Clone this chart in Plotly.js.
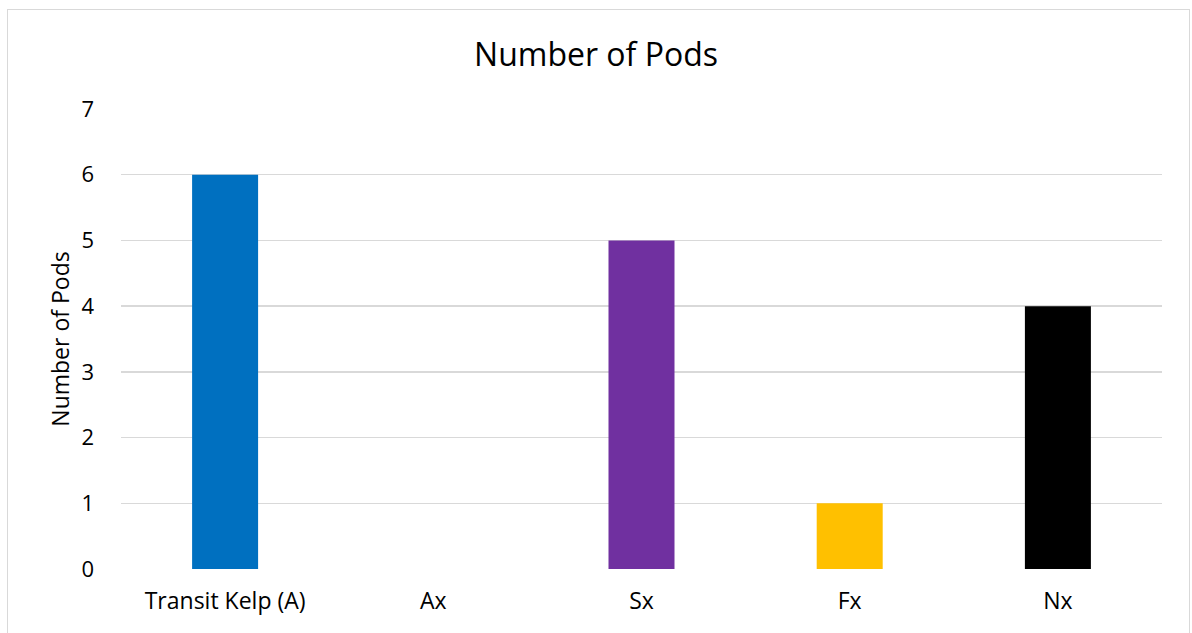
<!DOCTYPE html>
<html>
<head>
<meta charset="utf-8">
<script src="https://cdn.plot.ly/plotly-3.0.1.min.js"></script>
<style>
html,body{margin:0;padding:0;background:#fff;}
#wrap{position:relative;width:1192px;height:633px;overflow:hidden;}
#chart{position:absolute;left:0;top:0;width:1192px;height:633px;}
#frame{position:absolute;left:7px;top:9px;width:1181px;height:640px;border:1.5px solid #d9d9d9;pointer-events:none;}
</style>
</head>
<body>
<div id="wrap"><div id="chart"></div><div id="frame"></div></div>
<script>
const categories = ["Transit Kelp (A)", "Ax", "Sx", "Fx", "Nx"];
const pods = [6, 0, 5, 1, 4];
const barColors = ["#0070C0", "#0070C0", "#7030A0", "#FFC000", "#000000"];
const yTicks = [0, 1, 2, 3, 4, 5, 6, 7];

const fontFam = "'Open Sans', 'Liberation Sans', sans-serif";
Plotly.newPlot("chart", [{
  type: "bar",
  x: categories,
  y: pods,
  marker: {color: barColors},
  hoverinfo: "none"
}], {
  width: 1192, height: 633,
  margin: {l: 121, r: 30, t: 109, b: 64},
  paper_bgcolor: "rgba(0,0,0,0)",
  plot_bgcolor: "rgba(0,0,0,0)",
  bargap: 0.683,
  showlegend: false,
  font: {family: fontFam, color: "#000"},
  title: {text: "Number of Pods", font: {size: 32, color: "#000"}, x: 0.5, xanchor: "center", y: 0.913, yanchor: "middle"},
  xaxis: {
    type: "category",
    tickfont: {size: 23, color: "#000"},
    showgrid: false, zeroline: false, showline: false,
    ticks: "", ticklabelstandoff: 16
  },
  yaxis: {
    range: [0, 7],
    tickvals: yTicks,
    tickfont: {size: 22, color: "#000"},
    showgrid: true, gridcolor: "#d9d9d9", gridwidth: 1.5,
    zeroline: false, showline: false, ticks: "",
    ticklabelstandoff: 26,
    title: {text: "Number of Pods", font: {size: 23, color: "#000"}, standoff: 5}
  }
}, {staticPlot: true, displayModeBar: false});
</script>
</body>
</html>
